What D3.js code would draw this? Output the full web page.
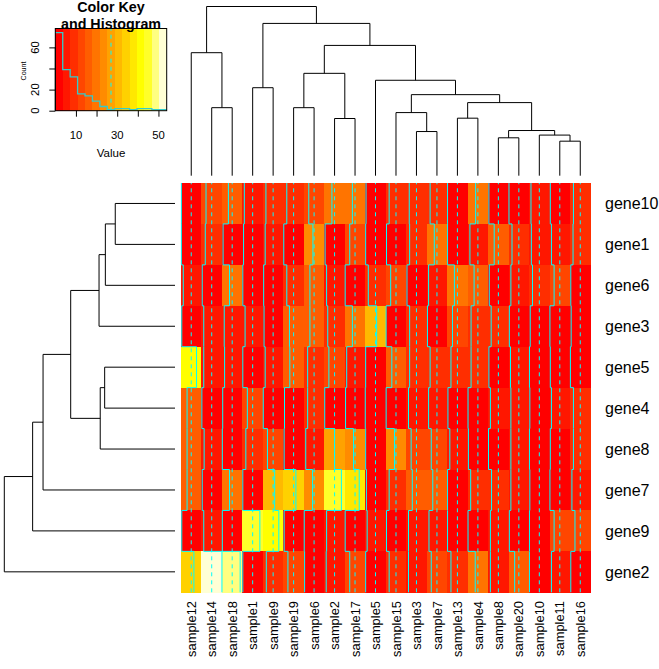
<!DOCTYPE html>
<html><head><meta charset="utf-8">
<script src="https://cdn.jsdelivr.net/npm/d3@7"></script>
<style>body{margin:0;background:#fff} text{font-family:"Liberation Sans",Arial,sans-serif}</style>
</head><body><svg id="c" width="659" height="669"></svg>
<script>
// ---------- data (display order, as reordered by the dendrograms) ----------
const samples = ["sample12","sample14","sample18","sample1","sample9","sample19","sample6","sample2","sample17","sample5",
                 "sample15","sample3","sample7","sample13","sample4","sample8","sample20","sample10","sample11","sample16"];
const genes = ["gene10","gene1","gene6","gene3","gene5","gene4","gene8","gene7","gene9","gene2"];

const gene10 = [1,12,17,5,8,9,13,20,20,2, 9,8,9,1,21,2,1,5,2,9];
const gene1  = [1,10,3,3,6,1,24,2,13,1, 2,9,20,1,6,16,9,6,5,8];
const gene6  = [6,2,20,1,2,9,16,6,1,8, 13,2,5,19,17,3,6,9,12,2];
const gene3  = [2,6,6,7,3,16,16,9,20,30, 1,9,2,14,9,8,2,3,1,3];
const gene5  = [41,6,7,1,6,17,10,12,5,1, 16,9,9,10,9,2,5,1,2,1];
const gene4  = [16,1,2,13,1,3,10,1,2,0, 1,6,5,2,1,6,6,2,5,9];
const gene8  = [16,7,1,9,12,2,5,27,23,1, 23,13,12,7,2,1,6,1,2,9];
const gene7  = [16,2,20,1,31,33,23,45,38,3, 9,16,16,1,8,9,6,2,1,5];
const gene9  = [2,6,1,46,42,2,1,6,1,5, 2,6,6,1,1,6,2,1,12,13];
const gene2  = [34,54,48,1,9,12,2,5,13,1, 9,6,12,10,20,6,16,1,5,2];

// dendrogram merges: [left, right, height]; numbers refer to earlier merges
const colMerge = [
  ["sample11","sample16",20.4], ["sample10",0,24.0], ["sample8","sample20",22.4], [2,1,26.7],
  ["sample13","sample4",34.0], [4,3,43.2], ["sample3","sample7",26.1], ["sample15",6,37.3],
  [7,5,47.9], ["sample5",8,56.4], ["sample2","sample17",33.8], ["sample19","sample6",40.2],
  [11,10,60.5], [12,9,77.0], ["sample1","sample9",52.0], [14,13,90.0],
  ["sample14","sample18",40.2], ["sample12",16,72.7], [17,15,100]
];
const rowMerge = [
  ["gene10","gene1",35.0], [0,"gene6",40.8], [1,"gene3",44.5], ["gene5","gene4",41.2],
  [3,"gene8",43.8], [2,4,61.1], [5,"gene7",77.3], [6,"gene9",83.4], [7,"gene2",100]
];

const keyValueTicks = [10,20,30,40,50];
const keyValueLabels = ["10","","30","","50"];
const keyCountTicks = [0,20,40,60];
const keyCountLabels = ["0","20","","60"];
// heat.colors(15)
const palette = ["#FF0000","#FF1700","#FF2E00","#FF4600","#FF5D00","#FF7400","#FF8B00","#FFA200",
                 "#FFB900","#FFD100","#FFE800","#FFFF00","#FFFF2A","#FFFF80","#FFFFD5"];

// ---------- build ----------
const matrix = [gene10,gene1,gene6,gene3,gene5,gene4,gene8,gene7,gene9,gene2];
const all = matrix.flat();
const vmin = d3.min(all), vmax = d3.max(all);
const nb = palette.length;
const breaks = d3.range(nb+1).map(i => vmin + (vmax-vmin)*i/nb);
function binOf(v){ for (let i=1;i<=nb;i++) if (v <= breaks[i] + 1e-9) return i-1; return nb-1; }

const svg = d3.select("#c");
svg.append("rect").attr("width",659).attr("height",669).attr("fill","#fff");

const x = d3.scaleBand().domain(samples).range([181, 590.5]);
const y = d3.scaleBand().domain(genes).range([183, 592.3]);
const bw = x.bandwidth(), bh = y.bandwidth();

// cells
const cells = [];
genes.forEach((g,i)=> samples.forEach((s,j)=> cells.push({g,s,v:matrix[i][j]})));
svg.append("g").selectAll("rect").data(cells).join("rect")
  .attr("x", d=>x(d.s)).attr("y", d=>y(d.g))
  .attr("width", bw+0.3).attr("height", bh+0.3)
  .attr("fill", d=>palette[binOf(d.v)]).attr("shape-rendering","crispEdges");

// traces
const s01 = d3.scaleLinear([vmin, vmax],[0,1]);
const vline = d3.median(breaks);
const tg = svg.append("g").attr("fill","none").attr("stroke","cyan").attr("stroke-width",1);
samples.forEach((s,j)=>{
  const cx = x(s) + s01(vline)*bw;
  tg.append("line").attr("x1",cx).attr("x2",cx).attr("y1",592.3).attr("y2",183)
    .attr("stroke-dasharray","4,4");
  let p = "";
  genes.forEach((g,i)=>{
    const xv = x(s) + s01(matrix[i][j])*bw;
    if (i===0) p += `M${xv},${y(g)}`; else p += `H${xv}`;
    p += `V${y(g)+bh}`;
  });
  tg.append("path").attr("d",p);
});

// dendrograms
function drawDendro(merge, leafPos, hScale, horiz){
  const nodes = [];
  const g = svg.append("g").attr("stroke","#000").attr("stroke-width",1).attr("fill","none");
  const info = c => typeof c === "string" ? {pos:leafPos(c), h:0} : nodes[c];
  merge.forEach(([a,b,h])=>{
    const A = info(a), B = info(b);
    const pos = (A.pos + B.pos)/2;
    nodes.push({pos,h});
    const hp = hScale(h), ha = hScale(A.h), hb = hScale(B.h);
    let d;
    if (!horiz) d = `M${A.pos},${ha}V${hp}H${B.pos}V${hb}`;
    else d = `M${ha},${A.pos}H${hp}V${B.pos}H${hb}`;
    g.append("path").attr("d", d);
  });
}
drawDendro(colMerge, s => x(s)+bw/2, d3.scaleLinear([0,100],[175.7,6.5]), false);
drawDendro(rowMerge, g => y(g)+bh/2, d3.scaleLinear([0,100],[175,4.3]), true);

// labels
svg.append("g").selectAll("text").data(samples).join("text")
  .attr("transform", d=>`translate(${x(d)+bw/2},601) rotate(-90)`)
  .attr("text-anchor","end").attr("dy","0.36em")
  .attr("font-size", 12.9).text(d=>d);
svg.append("g").selectAll("text").data(genes).join("text")
  .attr("x", 605).attr("y", d=>y(d)+bh/2).attr("dy","0.36em")
  .attr("font-size", 16).text(d=>d);

// ---------- color key ----------
const kx = d3.scaleLinear([vmin, vmax],[55.3,166.7]);
const counts = new Array(nb).fill(0);
all.forEach(v => counts[binOf(v)]++);
const ky = d3.scaleLinear([0, d3.max(counts)/0.95],[110.7,28.5]);
const kg = svg.append("g");
kg.selectAll("rect").data(d3.range(nb)).join("rect")
  .attr("x", i=>kx(breaks[i])).attr("width", i=>kx(breaks[i+1])-kx(breaks[i])+0.3)
  .attr("y", 28.5).attr("height", 110.7-28.5)
  .attr("fill", i=>palette[i]).attr("shape-rendering","crispEdges");
kg.append("line").attr("x1",kx(vline)).attr("x2",kx(vline)).attr("y1",110.7).attr("y2",28.5)
  .attr("stroke","cyan").attr("stroke-dasharray","4,4");
let hp = `M${kx(breaks[0])},${ky(counts[0])}`;
for (let i=1;i<=nb;i++){ hp += `H${kx(breaks[i])}V${ky(counts[Math.min(i,nb-1)])}`; }
kg.append("path").attr("d",hp).attr("fill","none").attr("stroke","#33cccc").attr("stroke-width",1.3);
kg.append("rect").attr("x",55.3).attr("y",28.5).attr("width",166.7-55.3).attr("height",110.7-28.5)
  .attr("fill","none").attr("stroke","#000").attr("stroke-width",1);

const xa = kg.append("g").attr("transform","translate(0,110.7)")
  .call(d3.axisBottom(kx).tickValues(keyValueTicks).tickFormat(()=> "").tickSize(6).tickSizeOuter(0));
xa.select(".domain").remove();
xa.selectAll("line").attr("stroke","#000");
kg.selectAll(".xlab").data(keyValueTicks).join("text")
  .attr("x", d=>kx(d)).attr("y",138.5).attr("text-anchor","middle").attr("font-size",11.3)
  .text((d,i)=>keyValueLabels[i]);

const ya = kg.append("g").attr("transform","translate(55.3,0)")
  .call(d3.axisLeft(ky).tickValues(keyCountTicks).tickFormat(()=> "").tickSize(6).tickSizeOuter(0));
ya.select(".domain").attr("d", `M0,${ky(keyCountTicks[0])}V${ky(keyCountTicks[keyCountTicks.length-1])}`).attr("stroke","#000");
ya.selectAll("line").attr("stroke","#000");
kg.selectAll(".ylab").data(keyCountTicks).join("text")
  .attr("transform", d=>`translate(38.5,${ky(d)}) rotate(-90)`)
  .attr("text-anchor","middle").attr("font-size",11.3).text((d,i)=>keyCountLabels[i]);

kg.append("text").attr("x",111).attr("y",156.7).attr("text-anchor","middle").attr("font-size",11.5).text("Value");
kg.append("text").attr("transform","translate(25.8,71) rotate(-90)").attr("text-anchor","middle")
  .attr("font-size",7.1).text("Count");
kg.append("text").attr("x",111).attr("y",12).attr("text-anchor","middle").attr("font-size",14.3)
  .attr("font-weight","bold").text("Color Key");
kg.append("text").attr("x",111).attr("y",28.5).attr("text-anchor","middle").attr("font-size",14.3)
  .attr("font-weight","bold").text("and Histogram");
</script></body></html>
